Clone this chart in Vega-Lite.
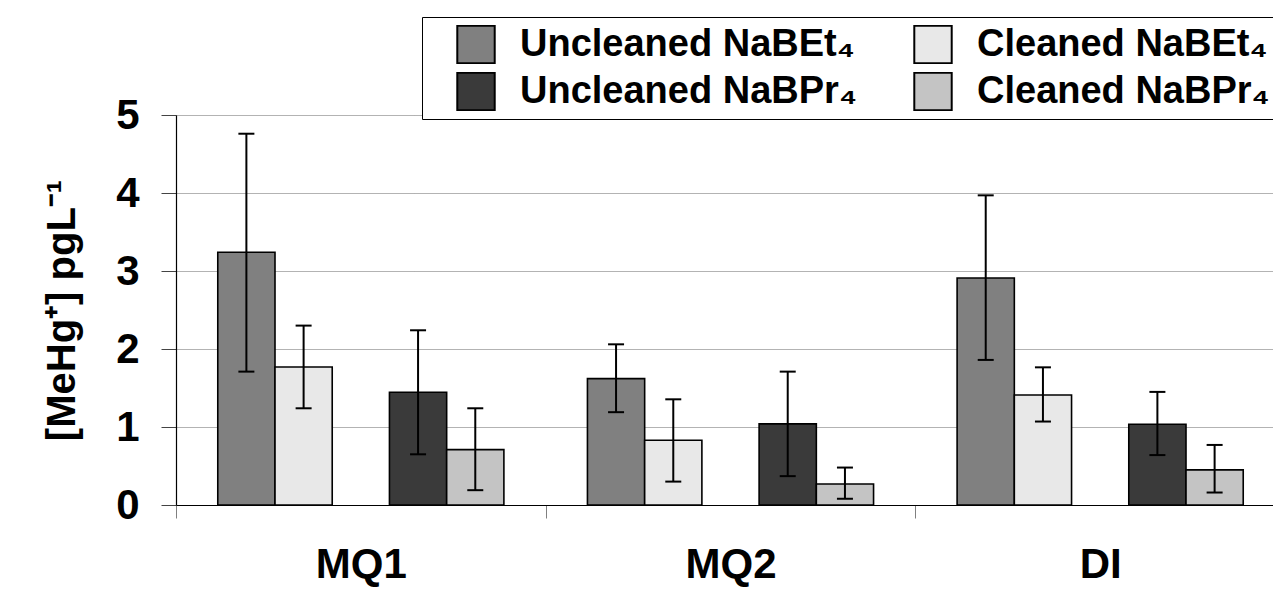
{
  "$schema": "https://vega.github.io/schema/vega-lite/v6.json",
  "width": 1097,
  "height": 390,
  "autosize": {"type": "none"},
  "padding": {"left": 176, "top": 115, "right": 0, "bottom": 102},
  "background": "white",
  "config": {"view": {"stroke": null}, "font": "Liberation Sans"},
  "data": {
    "values": [
      {"sample": "MQ1", "series": "Uncleaned NaBEt₄", "value": 3.24, "lo": 1.71, "hi": 4.76},
      {"sample": "MQ1", "series": "Cleaned NaBEt₄", "value": 1.77, "lo": 1.24, "hi": 2.30},
      {"sample": "MQ1", "series": "Uncleaned NaBPr₄", "value": 1.445, "lo": 0.65, "hi": 2.24},
      {"sample": "MQ1", "series": "Cleaned NaBPr₄", "value": 0.71, "lo": 0.19, "hi": 1.24},
      {"sample": "MQ2", "series": "Uncleaned NaBEt₄", "value": 1.62, "lo": 1.19, "hi": 2.06},
      {"sample": "MQ2", "series": "Cleaned NaBEt₄", "value": 0.83, "lo": 0.30, "hi": 1.355},
      {"sample": "MQ2", "series": "Uncleaned NaBPr₄", "value": 1.04, "lo": 0.37, "hi": 1.71},
      {"sample": "MQ2", "series": "Cleaned NaBPr₄", "value": 0.27, "lo": 0.08, "hi": 0.48},
      {"sample": "DI", "series": "Uncleaned NaBEt₄", "value": 2.91, "lo": 1.86, "hi": 3.97},
      {"sample": "DI", "series": "Cleaned NaBEt₄", "value": 1.41, "lo": 1.07, "hi": 1.765},
      {"sample": "DI", "series": "Uncleaned NaBPr₄", "value": 1.035, "lo": 0.64, "hi": 1.45},
      {"sample": "DI", "series": "Cleaned NaBPr₄", "value": 0.45, "lo": 0.16, "hi": 0.77}
    ]
  },
  "encoding": {
    "x": {
      "field": "sample",
      "type": "nominal",
      "sort": ["MQ1", "MQ2", "DI"],
      "scale": {"range": [0, 1109], "paddingInner": 0, "paddingOuter": 0},
      "axis": {
        "title": null,
        "labelAngle": 0,
        "labelFontSize": 42,
        "labelFontWeight": "bold",
        "labelColor": "black",
        "labelPadding": 26,
        "tickBand": "extent",
        "tickSize": 13,
        "tickColor": "#808080",
        "domainColor": "black",
        "domainWidth": 1.2
      }
    },
    "xOffset": {
      "field": "series",
      "type": "nominal",
      "scale": {
        "domain": ["Uncleaned NaBEt₄", "Cleaned NaBEt₄", "gap", "Uncleaned NaBPr₄", "Cleaned NaBPr₄"],
        "paddingInner": 0,
        "paddingOuter": 0.73
      }
    }
  },
  "layer": [
    {
      "mark": {"type": "bar", "stroke": "black", "strokeWidth": 1.6},
      "encoding": {
        "y": {
          "field": "value",
          "type": "quantitative",
          "scale": {"domain": [0, 5], "nice": false},
          "axis": {
            "title": "[MeHg⁺] pgL⁻¹",
            "titleFontSize": 40,
            "titleFontWeight": "bold",
            "titleColor": "black",
            "titleX": -114,
            "titleY": 195,
            "titleAngle": -90,
            "titleAlign": "center",
            "titleBaseline": "middle",
            "values": [0, 1, 2, 3, 4, 5],
            "format": "d",
            "labelFontSize": 42,
            "labelFontWeight": "bold",
            "labelColor": "black",
            "labelPadding": 22,
            "labelFlush": false,
            "tickSize": 15,
            "tickColor": "#444444",
            "domainColor": "black",
            "domainWidth": 1.2,
            "grid": true,
            "gridColor": "#666666",
            "gridDash": [1, 1],
            "gridWidth": 1
          }
        },
        "color": {
          "field": "series",
          "type": "nominal",
          "scale": {
            "domain": ["Uncleaned NaBEt₄", "Cleaned NaBEt₄", "Uncleaned NaBPr₄", "Cleaned NaBPr₄"],
            "range": ["#808080", "#e8e8e8", "#3a3a3a", "#c4c4c4"]
          },
          "legend": {
            "orient": "none",
            "legendX": 246,
            "legendY": -98,
            "columns": 2,
            "direction": "horizontal",
            "title": " ",
            "titleOrient": "left",
            "titleFontSize": 2,
            "titlePadding": 26,
            "labelFontSize": 38,
            "labelFontWeight": "bold",
            "labelColor": "black",
            "labelLimit": 0,
            "labelOffset": 24,
            "symbolType": "square",
            "symbolSize": 1400,
            "symbolStrokeColor": "black",
            "symbolStrokeWidth": 2,
            "symbolOpacity": 1,
            "clipHeight": 39,
            "columnPadding": 56,
            "rowPadding": 8,
            "padding": 8,
            "strokeColor": "black",
            "fillColor": "white"
          }
        }
      }
    },
    {
      "mark": {"type": "rule", "color": "black", "strokeWidth": 2},
      "encoding": {
        "y": {"field": "lo", "type": "quantitative"},
        "y2": {"field": "hi"}
      }
    },
    {
      "mark": {"type": "tick", "color": "black", "thickness": 2, "size": 16, "opacity": 1},
      "encoding": {"y": {"field": "lo", "type": "quantitative"}}
    },
    {
      "mark": {"type": "tick", "color": "black", "thickness": 2, "size": 16, "opacity": 1},
      "encoding": {"y": {"field": "hi", "type": "quantitative"}}
    }
  ]
}
